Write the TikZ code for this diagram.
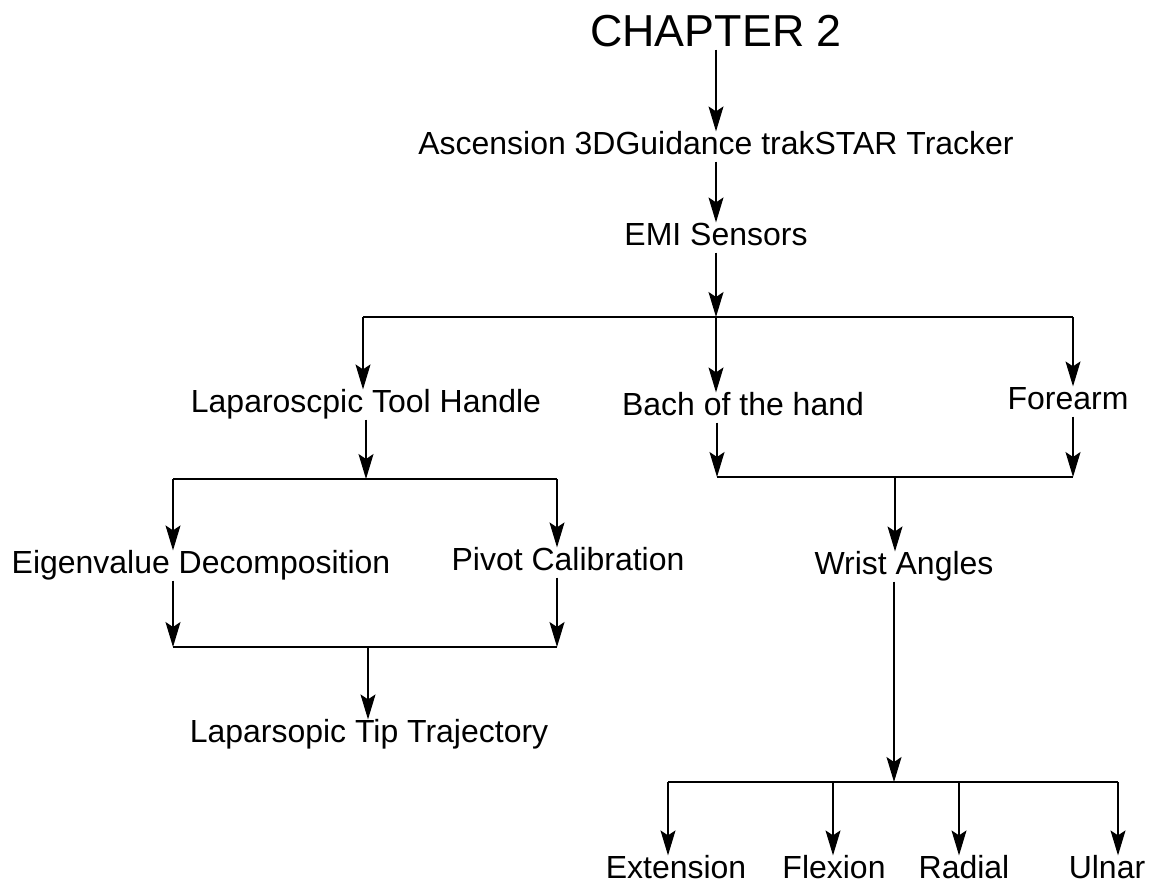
\documentclass[tikz,border=0pt]{standalone}
\usepackage{fontspec}
\setmainfont{Liberation Sans}
\usetikzlibrary{arrows.meta}

\begin{document}
\begin{tikzpicture}[x=0.02cm,y=-0.02cm,line width=0.7pt,
  >={Stealth[length=0.5cm,width=0.3cm,inset=0.1cm]},
  lbl/.style={inner sep=0pt,text height=13pt,text depth=3.5pt,font=\fontsize{18.2}{22}\selectfont},
  head/.style={inner sep=0pt,text height=18pt,text depth=1.5pt,font=\fontsize{25.5}{30}\selectfont}]
  \useasboundingbox (0,0) rectangle (1158,886);
  \node[head] (ch)  at (716,32)    {CHAPTER 2};
  \node[lbl]  (trk) at (716,146.5) {Ascension 3DGuidance trakSTAR Tracker};
  \node[lbl]  (emi) at (716,237.5) {EMI Sensors};
  \node[lbl]  (lth) at (366,404.5) {Laparoscpic Tool Handle};
  \node[lbl]  (bch) at (743,407.5) {Bach of the hand};
  \node[lbl]  (fa)  at (1068,401.5) {Forearm};
  \node[lbl]  (eig) at (201,565.5) {Eigenvalue Decomposition};
  \node[lbl]  (piv) at (568,562.5) {Pivot Calibration};
  \node[lbl]  (wa)  at (904,566.5) {Wrist Angles};
  \node[lbl]  (ltt) at (369,734.5) {Laparsopic Tip Trajectory};
  \node[lbl]  (ext) at (676,870.5) {Extension};
  \node[lbl]  (flx) at (834,870.5) {Flexion};
  \node[lbl]  (rad) at (964,870.5) {Radial};
  \node[lbl]  (uln) at (1107,870.5) {Ulnar};

  \coordinate (b0) at (716,317);
  \coordinate (b1) at (363,317);
  \coordinate (b2) at (1073,317);
  \coordinate (c0) at (366,479);
  \coordinate (c1) at (173,479);
  \coordinate (c2) at (557,479);
  \coordinate (d0) at (368,647);
  \coordinate (d1) at (173,647);
  \coordinate (d2) at (557,647);
  \coordinate (e0) at (895,477);
  \coordinate (e1) at (717,477);
  \coordinate (e2) at (1073,477);
  \coordinate (f0) at (894,782);
  \coordinate (f1) at (668,782);
  \coordinate (f2) at (833,782);
  \coordinate (f3) at (959,782);
  \coordinate (f4) at (1118,782);

  \path[->] (ch)  edge (trk);
  \path[->] (trk) edge (emi);
  \path[->] (emi) edge (b0);
  \draw (b1) -- (b2);
  \path[->] (b1) edge (b1 |- lth.north);
  \path[->] (b0) edge (b0 |- bch.north);
  \path[->] (b2) edge (b2 |- fa.north);

  \path[->] (lth) edge (c0);
  \draw (c1) -- (c2);
  \path[->] (c1) edge (c1 |- eig.north);
  \path[->] (c2) edge (c2 |- piv.north);
  \path[->] (d1 |- eig.south) edge (d1);
  \path[->] (d2 |- piv.south) edge (d2);
  \draw (d1) -- (d2);
  \path[->] (d0) edge (d0 |- ltt.north);

  \path[->] (e1 |- bch.south) edge (e1);
  \path[->] (e2 |- fa.south) edge (e2);
  \draw (e1) -- (e2);
  \path[->] (e0) edge (e0 |- wa.north);
  \path[->] (f0 |- wa.south) edge (f0);
  \draw (f1) -- (f4);
  \path[->] (f1) edge (f1 |- ext.north);
  \path[->] (f2) edge (f2 |- flx.north);
  \path[->] (f3) edge (f3 |- rad.north);
  \path[->] (f4) edge (f4 |- uln.north);
\end{tikzpicture}
\end{document}
